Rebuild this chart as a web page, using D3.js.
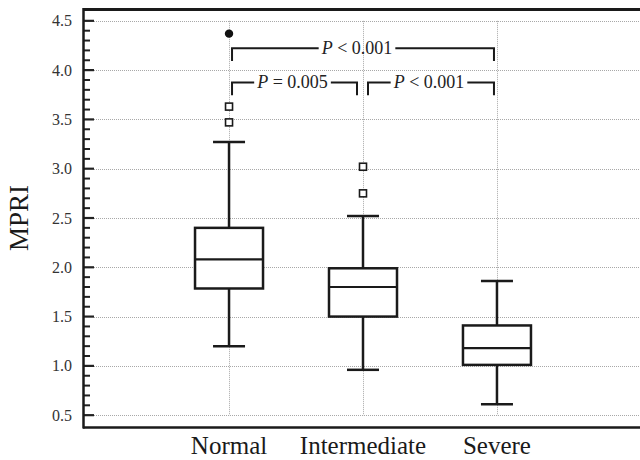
<!DOCTYPE html>
<html><head><meta charset="utf-8">
<script src="https://cdn.jsdelivr.net/npm/d3@7"></script>
<style>body{margin:0;background:#fff}svg{display:block}</style>
</head><body>
<svg id="chart" width="640" height="460"></svg>
<script>
const categories = ["Normal", "Intermediate", "Severe"];
const whiskerLow  = [1.20, 0.96, 0.61];
const q1          = [1.785, 1.50, 1.01];
const median      = [2.08, 1.80, 1.18];
const q3          = [2.40, 1.99, 1.41];
const whiskerHigh = [3.27, 2.52, 1.86];
const outliers    = [[3.63, 3.47], [3.02, 2.75], []];
const farOutliers = [[4.37], [], []];
const yTicks = [0.5, 1.0, 1.5, 2.0, 2.5, 3.0, 3.5, 4.0, 4.5];
const brackets = [
  {from: "Normal", to: "Severe", label: "< 0.001", level: 1},
  {from: "Normal", to: "Intermediate", label: "= 0.005", level: 0},
  {from: "Intermediate", to: "Severe", label: "< 0.001", level: 0}
];

const svg = d3.select("#chart");
const L = 83, R = 643, T = 9, B = 427;
const y = d3.scaleLinear().domain([0.38, 4.62]).range([B, T]);
const x = d3.scalePoint().domain(categories).range([L, R]).padding(1.09);
const font = "Liberation Serif, serif";

// grid
const grid = svg.append("g").attr("stroke", "#a8a8a8").attr("stroke-width", 1).attr("stroke-dasharray", "1,1");
grid.selectAll("line.h").data(yTicks).join("line").attr("class", "h")
  .attr("x1", L + 11).attr("x2", 640).attr("y1", d => Math.round(y(d)) + 0.5).attr("y2", d => Math.round(y(d)) + 0.5);
grid.selectAll("line.v").data(categories).join("line").attr("class", "v")
  .attr("x1", d => Math.round(x(d)) + 0.5).attr("x2", d => Math.round(x(d)) + 0.5)
  .attr("y1", y(4.5)).attr("y2", y(0.5));

// y axis with inward ticks
const minor = d3.range(5, 46).map(v => v / 10).filter(v => !yTicks.some(t => Math.abs(t - v) < 1e-6));
const yAxis = svg.append("g").attr("transform", `translate(${L},0)`);
yAxis.selectAll("line.minor").data(minor).join("line")
  .attr("x1", 0).attr("x2", 7).attr("y1", d => y(d)).attr("y2", d => y(d))
  .attr("stroke", "#222").attr("stroke-width", 2);
yAxis.selectAll("line.major").data(yTicks).join("line")
  .attr("x1", 0).attr("x2", 11).attr("y1", d => y(d)).attr("y2", d => y(d))
  .attr("stroke", "#222").attr("stroke-width", 2.2);
yAxis.selectAll("text").data(yTicks).join("text")
  .attr("x", -11).attr("y", d => y(d)).attr("dy", "0.35em")
  .attr("text-anchor", "end").attr("font-family", font).attr("font-size", 16).attr("fill", "#333")
  .text(d3.format(".1f"));

// frame
svg.append("line").attr("x1", L).attr("x2", 640).attr("y1", T + 0.5).attr("y2", T + 0.5).attr("stroke", "#1a1a1a").attr("stroke-width", 3);
svg.append("line").attr("x1", L + 0.5).attr("x2", L + 0.5).attr("y1", T - 1).attr("y2", B + 1.5).attr("stroke", "#1a1a1a").attr("stroke-width", 2.5);
svg.append("line").attr("x1", L).attr("x2", 640).attr("y1", B + 0.5).attr("y2", B + 0.5).attr("stroke", "#1a1a1a").attr("stroke-width", 2.5);

// boxes
const boxW = 68, capW = 32;
const data = categories.map((c, i) => ({c, lo: whiskerLow[i], q1: q1[i], med: median[i], q3: q3[i], hi: whiskerHigh[i], out: outliers[i], far: farOutliers[i]}));
const g = svg.append("g").attr("stroke", "#1a1a1a").attr("stroke-width", 2.5).attr("fill", "none");
data.forEach(d => {
  const cx = x(d.c);
  g.append("line").attr("x1", cx).attr("x2", cx).attr("y1", y(d.hi)).attr("y2", y(d.lo));
  g.append("line").attr("x1", cx - capW / 2).attr("x2", cx + capW / 2).attr("y1", y(d.hi)).attr("y2", y(d.hi));
  g.append("line").attr("x1", cx - capW / 2).attr("x2", cx + capW / 2).attr("y1", y(d.lo)).attr("y2", y(d.lo));
  g.append("rect").attr("x", cx - boxW / 2).attr("y", y(d.q3)).attr("width", boxW).attr("height", y(d.q1) - y(d.q3)).attr("fill", "#fff");
  g.append("line").attr("x1", cx - boxW / 2).attr("x2", cx + boxW / 2).attr("y1", y(d.med)).attr("y2", y(d.med)).attr("stroke-width", 2.2);
  d.out.forEach(v => {
    g.append("rect").attr("x", cx - 3.5).attr("y", y(v) - 3.5).attr("width", 7).attr("height", 7).attr("fill", "#fff").attr("stroke-width", 1.6);
  });
  d.far.forEach(v => {
    g.append("circle").attr("cx", cx).attr("cy", y(v)).attr("r", 4.2).attr("fill", "#111").attr("stroke", "none");
  });
});

// significance brackets
const levelY = [3.875, 4.223];
const drop = 0.13;
const bg = svg.append("g");
brackets.forEach(b => {
  let x1 = x(b.from) + 3, x2 = x(b.to) - 3;
  if (b.level === 0 && b.from === "Intermediate") { x1 = x(b.from) + 5; x2 = x(b.to) - 3; }
  if (b.level === 0 && b.to === "Intermediate") { x2 = x(b.to) - 6; }
  const yy = y(levelY[b.level]), yb = y(levelY[b.level] - drop);
  const cx = (x1 + x2) / 2 - (b.level === 1 ? 6 : 2);
  const t = bg.append("text").attr("x", cx).attr("y", yy).attr("dy", "0.3em").attr("text-anchor", "middle")
    .attr("font-family", font).attr("font-size", 18).attr("fill", "#222");
  t.append("tspan").attr("font-style", "italic").text("P");
  t.append("tspan").text(" " + b.label);
  const w = t.node().getComputedTextLength();
  const gap = 3;
  const path = `M${x1},${yb}V${yy}H${cx - w / 2 - gap}M${cx + w / 2 + gap},${yy}H${x2}V${yb}`;
  bg.append("path").attr("d", path).attr("fill", "none").attr("stroke", "#1a1a1a").attr("stroke-width", 2);
});

// x labels
svg.append("g").selectAll("text").data(categories).join("text")
  .attr("x", d => x(d)).attr("y", 454).attr("text-anchor", "middle")
  .attr("font-family", font).attr("font-size", 25).attr("fill", "#1a1a1a").text(d => d);

// y label
svg.append("text").attr("transform", "translate(28,218) rotate(-90)").attr("text-anchor", "middle")
  .attr("font-family", font).attr("font-size", 27).attr("fill", "#1a1a1a").text("MPRI");
</script>
</body></html>
